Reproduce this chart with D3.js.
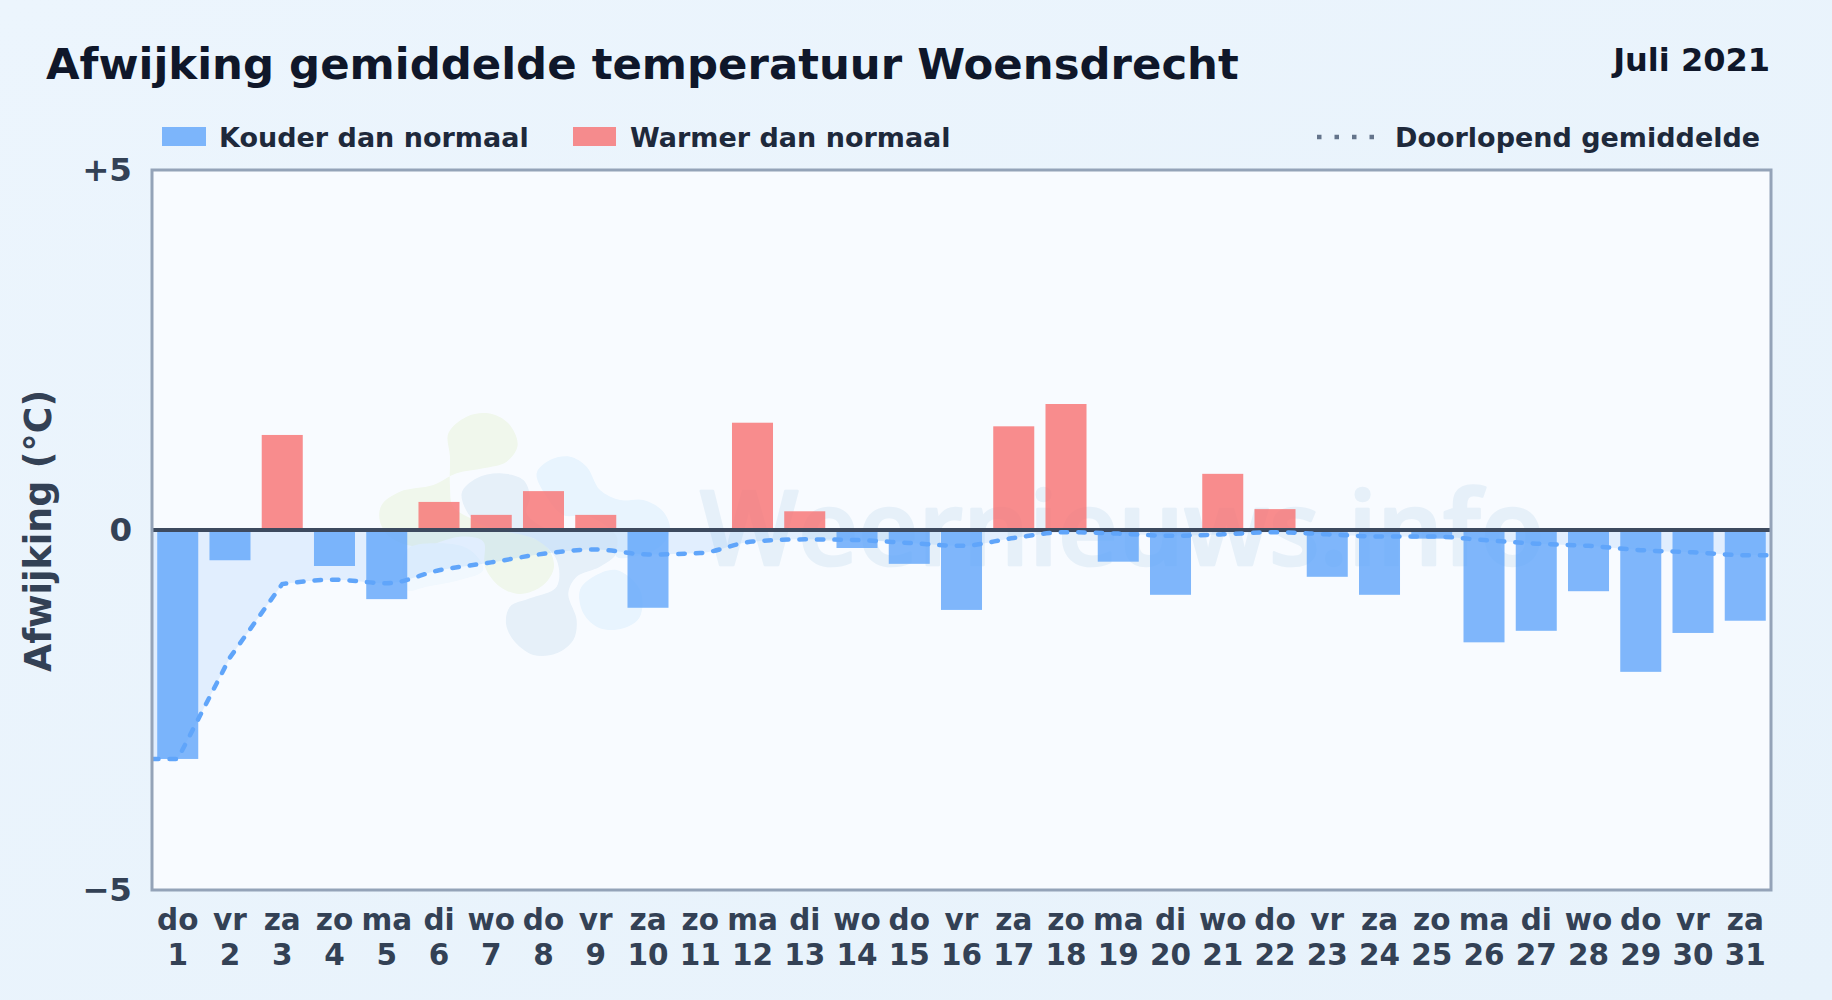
<!DOCTYPE html>
<html>
<head>
<meta charset="utf-8">
<script src="https://cdn.jsdelivr.net/npm/d3@7/dist/d3.min.js"></script>
<style>
  html, body { margin: 0; padding: 0; background: #e8f3fc; }
  svg { display: block; font-family: "DejaVu Sans", sans-serif; font-weight: bold; }
  .domain { display: none; }
</style>
</head>
<body>
<div id="chart"></div>
<script>
var dayNames = ["do","vr","za","zo","ma","di","wo","do","vr","za","zo","ma","di","wo","do","vr","za","zo","ma","di","wo","do","vr","za","zo","ma","di","wo","do","vr","za"];
var dayNumbers = [1,2,3,4,5,6,7,8,9,10,11,12,13,14,15,16,17,18,19,20,21,22,23,24,25,26,27,28,29,30,31];
var deviation = [-3.18,-0.42,1.32,-0.5,-0.96,0.39,0.21,0.54,0.21,-1.08,0,1.49,0.26,-0.25,-0.47,-1.11,1.44,1.75,-0.44,-0.9,0.78,0.29,-0.65,-0.9,-0.12,-1.56,-1.4,-0.85,-1.97,-1.43,-1.26];
var runningAvg = [-3.18,-1.77,-0.75,-0.69,-0.74,-0.56,-0.45,-0.33,-0.27,-0.34,-0.32,-0.16,-0.13,-0.14,-0.18,-0.22,-0.11,-0.03,-0.05,-0.08,-0.06,-0.03,-0.06,-0.09,-0.09,-0.14,-0.19,-0.22,-0.28,-0.31,-0.35];
var yTicks = [5, 0, -5];
var yTickLabels = ["+5", "0", "\u22125"];

var width = 1832, height = 1000;
var margin = {top: 170, right: 61, bottom: 110, left: 152};
var innerW = width - margin.left - margin.right;
var innerH = height - margin.top - margin.bottom;
var fontStack = "'DejaVu Sans', sans-serif";

var x = d3.scaleBand().domain(dayNumbers).range([0, innerW]).paddingInner(0.215).paddingOuter(0.1);
var y = d3.scaleLinear().domain([-5, 5]).range([innerH, 0]);

var svg = d3.select("#chart").append("svg")
  .attr("width", width)
  .attr("height", height);

var defs = svg.append("defs");
var bg = defs.append("linearGradient").attr("id", "pageBg")
  .attr("x1", 0).attr("y1", 0).attr("x2", 1).attr("y2", 1);
bg.append("stop").attr("offset", "0%").attr("stop-color", "#ecf5fd");
bg.append("stop").attr("offset", "100%").attr("stop-color", "#e7f2fb");
defs.append("clipPath").attr("id", "plotClip").append("rect")
  .attr("width", innerW).attr("height", innerH);
defs.append("filter").attr("id", "soft").append("feGaussianBlur").attr("stdDeviation", 1);

svg.append("rect").attr("width", width).attr("height", height).attr("fill", "url(#pageBg)");

// title row
svg.append("text").attr("x", 46).attr("y", 79)
  .attr("font-size", 43.4).attr("fill", "#0f172a")
  .text("Afwijking gemiddelde temperatuur Woensdrecht");
svg.append("text").attr("x", 1770).attr("y", 71).attr("text-anchor", "end")
  .attr("font-size", 32).attr("fill", "#0f172a")
  .text("Juli 2021");

// legend
var legend = svg.append("g").attr("font-size", 27).attr("fill", "#1e293b");
legend.append("rect").attr("x", 162).attr("y", 127).attr("width", 44).attr("height", 19).attr("fill", "#60a5fa").attr("opacity", 0.8);
legend.append("text").attr("x", 219).attr("y", 146.5).text("Kouder dan normaal");
legend.append("rect").attr("x", 573).attr("y", 127).attr("width", 43).attr("height", 19).attr("fill", "#f87171").attr("opacity", 0.8);
legend.append("text").attr("x", 630).attr("y", 146.5).text("Warmer dan normaal");
legend.append("line").attr("x1", 1317).attr("x2", 1375).attr("y1", 137).attr("y2", 137)
  .attr("stroke", "#64748b").attr("stroke-width", 4.5).attr("stroke-dasharray", "4.5 13");
legend.append("text").attr("x", 1395).attr("y", 146.5).text("Doorlopend gemiddelde");

var plot = svg.append("g").attr("transform", "translate(" + margin.left + "," + margin.top + ")");
plot.append("rect").attr("width", innerW).attr("height", innerH).attr("fill", "#f8fbff");

// watermark: logo blobs and site name
var blobLine = d3.line().curve(d3.curveCatmullRomClosed);
var blobs = [
  {fill: "#f0f7ec", pts: [[265,130],[320,80],[385,70],[445,100],[473,165],[440,215],[370,235],[290,250],[220,285],[120,305],[65,345],[60,395],[95,445],[180,470],[300,440],[370,455],[375,530],[420,590],[480,612],[550,585],[582,530],[560,470],[480,430],[370,400],[280,350],[270,290],[270,200]]},
  {fill: "#e6f0f9", pts: [[305,310],[350,265],[420,250],[490,270],[510,320],[500,370],[570,420],[680,420],[770,430],[770,490],[720,530],[650,560],[625,610],[650,690],[640,750],[590,790],[520,795],[460,750],[438,700],[450,650],[510,625],[590,590],[590,510],[530,450],[420,420],[340,390]]},
  {fill: "#e8f4fe", pts: [[530,250],[570,210],[630,200],[680,230],[720,300],[780,330],[850,330],[910,365],[930,420],[900,470],[820,500],[770,500],[770,440],[690,380],[610,375],[560,320]]},
  {fill: "#e8f4fe", pts: [[660,600],[700,560],[770,540],[840,600],[840,680],[790,715],[720,715],[670,670]]},
  {fill: "#f1f8fe", pts: [[140,480],[240,460],[330,480],[370,540],[300,570],[200,590],[140,600]]}
];
plot.append("g")
  .attr("transform", "translate(" + (360 - margin.left) + "," + (390 - margin.top) + ") scale(0.3333)")
  .attr("filter", "url(#soft)")
  .selectAll("path").data(blobs).join("path")
  .attr("d", function (d) { return blobLine(d.pts); })
  .attr("fill", function (d) { return d.fill; });
plot.append("text").attr("x", 700 - margin.left).attr("y", 565 - margin.top)
  .attr("font-family", "'Open Sans', sans-serif").attr("font-weight", 600)
  .attr("font-size", 104).attr("fill", "#e6f0f9")
  .attr("stroke", "#e6f0f9").attr("stroke-width", 2.5).attr("stroke-linejoin", "round")
  .text("Weernieuws.info");

// running mean runs from plot edge to plot edge
var lineData = [{px: 0, v: runningAvg[0]}]
  .concat(runningAvg.map(function (v, i) { return {px: x(dayNumbers[i]) + x.bandwidth() / 2, v: v}; }))
  .concat([{px: innerW, v: runningAvg[runningAvg.length - 1]}]);

// straight ramp over the first days, smooth after that
var rampEnd = 3;
var rampLine = d3.line()
  .x(function (d) { return d.px; })
  .y(function (d) { return y(d.v); });
var smoothLine = d3.line().curve(d3.curveMonotoneX)
  .x(function (d) { return d.px; })
  .y(function (d) { return y(d.v); });
var avgPath = rampLine(lineData.slice(0, rampEnd + 1)) +
  smoothLine(lineData.slice(rampEnd)).replace(/^M/, "L");

plot.append("path")
  .attr("fill", "#60a5fa").attr("fill-opacity", 0.15)
  .attr("d", avgPath + "L" + innerW + "," + y(0) + "L0," + y(0) + "Z");

plot.selectAll(".bar").data(deviation).join("rect")
  .attr("class", "bar")
  .attr("x", function (d, i) { return x(dayNumbers[i]); })
  .attr("width", x.bandwidth())
  .attr("y", function (d) { return y(Math.max(d, 0)); })
  .attr("height", function (d) { return Math.abs(y(d) - y(0)); })
  .attr("fill", function (d) { return d < 0 ? "#60a5fa" : "#f87171"; })
  .attr("opacity", 0.8);

plot.append("line").attr("x1", 0).attr("x2", innerW).attr("y1", y(0)).attr("y2", y(0))
  .attr("stroke", "#3d4a5f").attr("stroke-width", 4);

plot.append("path")
  .attr("clip-path", "url(#plotClip)")
  .attr("fill", "none").attr("stroke", "#60a5fa").attr("stroke-width", 4.5)
  .attr("stroke-linecap", "round").attr("stroke-dasharray", "6.5 11")
  .attr("d", avgPath);

plot.append("rect").attr("width", innerW).attr("height", innerH)
  .attr("fill", "none").attr("stroke", "#94a3b8").attr("stroke-width", 3);

// axes
var yAxis = plot.append("g")
  .call(d3.axisLeft(y).tickValues(yTicks).tickSize(0).tickPadding(20)
    .tickFormat(function (d, i) { return yTickLabels[i]; }));
yAxis.selectAll("text").attr("font-size", 32.5).attr("font-family", fontStack).attr("fill", "#334155");

var xAxis = plot.append("g").attr("transform", "translate(0," + innerH + ")")
  .call(d3.axisBottom(x).tickSize(0).tickPadding(0).tickFormat(""));
xAxis.selectAll("text")
  .attr("font-size", 29.5).attr("font-family", fontStack).attr("fill", "#334155")
  .each(function (d, i) {
    var t = d3.select(this).attr("y", 0).attr("dy", null);
    t.append("tspan").attr("x", 0).attr("y", 40).text(dayNames[i]);
    t.append("tspan").attr("x", 0).attr("y", 75).text(dayNumbers[i]);
  });

svg.append("text")
  .attr("transform", "translate(51,531) rotate(-90)")
  .attr("text-anchor", "middle").attr("font-size", 36.4).attr("fill", "#334155")
  .text("Afwijking (\u00b0C)");
</script>
</body>
</html>
